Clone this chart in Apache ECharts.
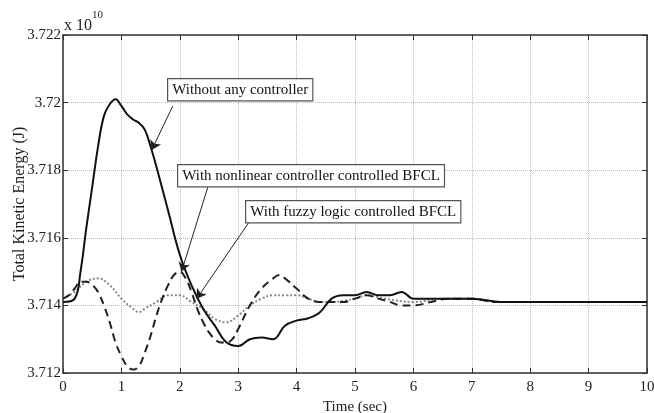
<!DOCTYPE html>
<html>
<head>
    <meta charset="utf-8">
    <title>Total Kinetic Energy</title>
    <script src="https://cdn.jsdelivr.net/npm/echarts@6/dist/echarts.min.js"></script>
    <style>
        html, body { margin: 0; padding: 0; background: #fff; }
        #main { width: 654px; height: 413px; }
    </style>
</head>
<body>
    <div id="main"></div>
    <script type="text/javascript">
        // values (energy in units of 1e10 J)
        var tNone = [0, 0.2, 0.3, 0.4, 0.5, 0.6, 0.7, 0.8, 0.9, 1.0, 1.1, 1.2, 1.3, 1.4, 1.5, 1.6, 1.8, 2.0, 2.2, 2.4, 2.6, 2.8, 3.0, 3.2, 3.4, 3.6, 3.8, 4.0, 4.2, 4.4, 4.6, 4.8, 5.0, 5.2, 5.4, 5.6, 5.8, 6.0, 6.3, 6.6, 7.0, 7.5, 8, 8.5, 9, 9.5, 10];
        var vNone = [3.7141, 3.7142, 3.7150, 3.7163, 3.7175, 3.7187, 3.7196, 3.71995, 3.7201, 3.7199, 3.71965, 3.7195, 3.7194, 3.7192, 3.7187, 3.7181, 3.7168, 3.7155, 3.7146, 3.7139, 3.7134, 3.7129, 3.7128, 3.7130, 3.71305, 3.7130, 3.7134, 3.71355, 3.71362, 3.7138, 3.7142, 3.7143, 3.7143, 3.7144, 3.7143, 3.7143, 3.7144, 3.7142, 3.7142, 3.7142, 3.7142, 3.7141, 3.7141, 3.7141, 3.7141, 3.7141, 3.7141];

        var tNonlin = [0, 0.1, 0.2, 0.3, 0.4, 0.5, 0.6, 0.7, 0.8, 0.9, 1.0, 1.1, 1.2, 1.3, 1.4, 1.5, 1.6, 1.7, 1.8, 1.9, 2.0, 2.1, 2.2, 2.3, 2.4, 2.5, 2.6, 2.7, 2.8, 2.9, 3.0, 3.2, 3.4, 3.6, 3.7, 3.8, 4.0, 4.2, 4.4, 4.6, 4.8, 5.0, 5.2, 5.4, 5.6, 5.8, 6.0, 6.3, 6.6, 7.0, 7.4, 8, 9, 10];
        var vNonlin = [3.7142, 3.7143, 3.7145, 3.7147, 3.7147, 3.7146, 3.7144, 3.7140, 3.7135, 3.7129, 3.7125, 3.7122, 3.7121, 3.7122, 3.7126, 3.7131, 3.7137, 3.7142, 3.7146, 3.7149, 3.7150, 3.7148, 3.7144, 3.7139, 3.7135, 3.7132, 3.7130, 3.7129, 3.7129, 3.7130, 3.7133, 3.7140, 3.7145, 3.7148, 3.7149, 3.7148, 3.7145, 3.7142, 3.7141, 3.7141, 3.7141, 3.7142, 3.7143, 3.7142, 3.7141, 3.7140, 3.7140, 3.7141, 3.7142, 3.7142, 3.7141, 3.7141, 3.7141, 3.7141];

        var tFuzzy = [0, 0.2, 0.4, 0.6, 0.8, 1.0, 1.2, 1.3, 1.4, 1.6, 1.8, 1.9, 2.0, 2.2, 2.4, 2.6, 2.8, 3.0, 3.2, 3.4, 3.6, 3.8, 4.0, 4.2, 4.4, 4.6, 5.0, 5.2, 5.5, 6.0, 6.5, 7, 7.5, 8, 9, 10];
        var vFuzzy = [3.7142, 3.7144, 3.7147, 3.7148, 3.7146, 3.7142, 3.7139, 3.7138, 3.7139, 3.7141, 3.7143, 3.7143, 3.7143, 3.7141, 3.7139, 3.7136, 3.7135, 3.7137, 3.7140, 3.7142, 3.7143, 3.7143, 3.7143, 3.7142, 3.7141, 3.7141, 3.7142, 3.7143, 3.7142, 3.7141, 3.7142, 3.7142, 3.7141, 3.7141, 3.7141, 3.7141];

        var seriesNames = ['Without any controller', 'With nonlinear controller controlled BFCL', 'With fuzzy logic controlled BFCL'];

        function pairs(t, v) {
            return t.map(function (x, i) { return [x, v[i]]; });
        }

        var serif = 'Liberation Serif';
        var dom = document.getElementById('main');
        var myChart = echarts.init(dom);

        var option = {
            animation: false,
            grid: { left: 63, right: 7, top: 35, bottom: 40, containLabel: false, outerBoundsMode: 'none' },
            xAxis: [{
                type: 'value', min: 0, max: 10, interval: 1,
                name: 'Time (sec)', nameLocation: 'middle', nameGap: 25,
                nameTextStyle: { fontFamily: serif, fontSize: 15, color: '#222' },
                axisLine: { lineStyle: { color: '#333', width: 1.5 } },
                axisTick: { inside: true, length: 5, lineStyle: { color: '#333' } },
                axisLabel: { fontFamily: serif, fontSize: 15, color: '#222', margin: 7 },
                splitLine: { lineStyle: { type: 'dotted', color: '#bbb' } }
            }, {
                type: 'value', position: 'top', min: 0, max: 10, interval: 1,
                axisLine: { show: true, onZero: false, lineStyle: { color: '#333', width: 1.5 } },
                axisTick: { inside: true, length: 5, lineStyle: { color: '#333' } },
                axisLabel: { show: false }, splitLine: { show: false }
            }],
            yAxis: [{
                type: 'value', min: 3.712, max: 3.722, interval: 0.002,
                name: 'Total Kinetic Energy (J)', nameLocation: 'middle', nameGap: 35,
                nameMoveOverlap: false,
                nameTextStyle: { fontFamily: serif, fontSize: 16, color: '#222' },
                axisLine: { show: true, onZero: false, lineStyle: { color: '#333', width: 1.5 } },
                axisTick: { show: true, inside: true, length: 5, lineStyle: { color: '#333' } },
                axisLabel: {
                    fontFamily: serif, fontSize: 15, color: '#222', margin: 2,
                    formatter: function (v) { return String(parseFloat(v.toFixed(3))); }
                },
                splitLine: { lineStyle: { type: 'dotted', color: '#bbb' } }
            }, {
                type: 'value', position: 'right', min: 3.712, max: 3.722, interval: 0.002,
                axisLine: { show: true, onZero: false, lineStyle: { color: '#333', width: 1.5 } },
                axisTick: { show: true, inside: true, length: 5, lineStyle: { color: '#333' } },
                axisLabel: { show: false }, splitLine: { show: false }
            }],
            graphic: [
                {
                    type: 'text', left: 64, top: 10,
                    style: {
                        text: '{b|x 10}{s|10}',
                        rich: {
                            b: { fontFamily: serif, fontSize: 16, fill: '#222', padding: [8, 0, 0, 0] },
                            s: { fontFamily: serif, fontSize: 11, fill: '#222', verticalAlign: 'top' }
                        }
                    }
                },
                {
                    type: 'text', left: 167, top: 78, z: 10,
                    style: {
                        text: seriesNames[0], font: '15px "Liberation Serif"', fill: '#111',
                        backgroundColor: '#fff', borderColor: '#555', borderWidth: 1.2, padding: [3, 4, 3, 4]
                    }
                },
                {
                    type: 'text', left: 177, top: 164, z: 10,
                    style: {
                        text: seriesNames[1], font: '15px "Liberation Serif"', fill: '#111',
                        backgroundColor: '#fff', borderColor: '#555', borderWidth: 1.2, padding: [3, 4, 3, 4]
                    }
                },
                {
                    type: 'text', left: 245, top: 200, z: 10,
                    style: {
                        text: seriesNames[2], font: '15px "Liberation Serif"', fill: '#111',
                        backgroundColor: '#fff', borderColor: '#555', borderWidth: 1.2, padding: [3, 4, 3, 4]
                    }
                }
            ],
            series: [{
                name: seriesNames[2], type: 'line', smooth: 0.4, showSymbol: false,
                data: pairs(tFuzzy, vFuzzy),
                lineStyle: { color: '#888', width: 2, type: [2, 2] }
            }, {
                name: seriesNames[1], type: 'line', smooth: 0.4, showSymbol: false,
                data: pairs(tNonlin, vNonlin),
                lineStyle: { color: '#222', width: 2, type: [8, 5] }
            }, {
                name: seriesNames[0], type: 'line', smooth: 0.4, showSymbol: false,
                data: pairs(tNone, vNone),
                lineStyle: { color: '#111', width: 2 },
                markLine: {
                    silent: true, symbolSize: 9,
                    label: { show: false },
                    lineStyle: { color: '#222', width: 1, type: 'solid' },
                    data: [
                        [{ coord: [1.88, 3.7199], symbol: 'none' }, { coord: [1.52, 3.7186], symbol: 'arrow' }],
                        [{ coord: [2.48, 3.7175], symbol: 'none' }, { coord: [2.03, 3.7150], symbol: 'arrow' }],
                        [{ coord: [3.20, 3.7165], symbol: 'none' }, { coord: [2.29, 3.7142], symbol: 'arrow' }]
                    ]
                }
            }]
        };
        myChart.setOption(option);
    </script>
</body>
</html>
